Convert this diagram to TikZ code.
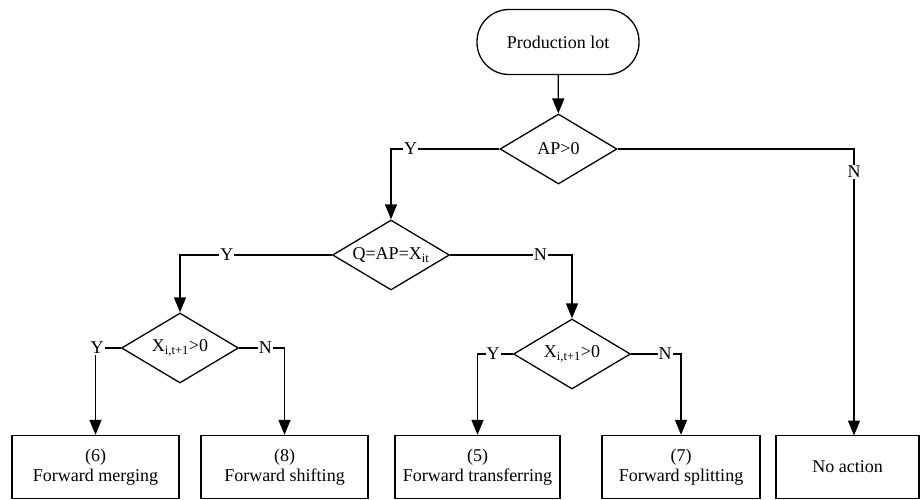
\documentclass[tikz,border=0pt]{standalone}
\usepackage{fontspec}
\setmainfont{Liberation Serif}
\usetikzlibrary{shapes.geometric,arrows.meta,calc}
\begin{document}
\begin{tikzpicture}[x=1pt,y=-1pt,
  font=\fontsize{18}{20}\selectfont,
  line width=1.3pt,
  arr/.style={-{Triangle[width=12pt,length=15pt]}},
  terminal/.style={draw,rounded corners=32pt,minimum width=162pt,minimum height=65pt,inner sep=0pt},
  decide/.style={draw,diamond,aspect=1.67,minimum width=117pt,minimum height=70pt,inner sep=0pt},
  action/.style={draw,minimum height=63pt,inner sep=0pt,align=center},
  lab/.style={fill=white,inner sep=1pt}]
\useasboundingbox (0,0) rectangle (920,500);

% start
\node[terminal] (lot) at (558,42) {Production lot};

% decisions
\node[decide,label=center:{AP>0}] (ap) at (558.5,149) {};
\node[decide,label=center:{Q=AP=X\textsubscript{it}}] (q) at (391,255) {};
\node[decide,label=center:{X\textsubscript{i,t+1}>0}] (dl) at (180,348) {};
\node[decide,label=center:{X\textsubscript{i,t+1}>0}] (dr) at (572,354) {};

% outcomes
\node[action,minimum width=167pt] (b6) at (95.5,467) {(6)\\Forward merging};
\node[action,minimum width=167pt] (b8) at (284.5,467) {(8)\\Forward shifting};
\node[action,minimum width=165pt] (b5) at (477.5,467) {(5)\\Forward transferring};
\node[action,minimum width=158pt] (b7) at (681,467) {(7)\\Forward splitting};
\node[action,minimum width=143pt] (bn) at (847.5,467) {No action};
\coordinate (bnin) at (854,435.5);

% connectors
\draw[arr] (lot) -- (ap);
\draw[arr] (ap.west) -| node[lab,pos=0.41] {Y} (q.north);
\draw[arr] (ap.east) -| node[lab,pos=0.54] {N} (bnin);
\draw[arr] (q.west) -| node[lab,pos=0.346] {Y} (dl.north);
\draw[arr] (q.east) -| node[lab,pos=0.37] {N} (dr.north);
\draw[arr] (dl.west) -| node[lab,pos=0.47] {Y} (b6.north);
\draw[arr] (dl.east) -| node[lab,pos=0.29] {N} (b8.north);
\draw[arr] (dr.west) -| node[lab,pos=0.28] {Y} (b5.north);
\draw[arr] (dr.east) -| node[lab,pos=0.34] {N} (b7.north);
\end{tikzpicture}
\end{document}
